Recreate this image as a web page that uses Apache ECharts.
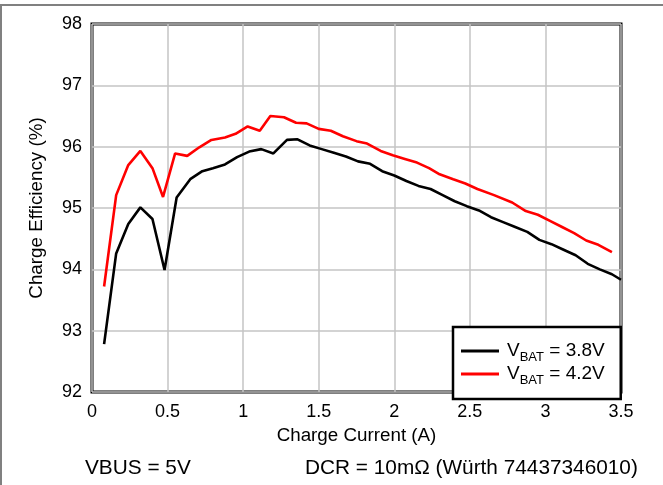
<!DOCTYPE html>
<html>
<head>
<meta charset="utf-8">
<script src="https://cdn.jsdelivr.net/npm/echarts@6/dist/echarts.min.js"></script>
<style>html,body{margin:0;padding:0;background:#fff;}#c{width:663px;height:485px;}</style>
</head>
<body>
<div id="c"></div>
<script>
var current38 = [0.08,0.16,0.24,0.32,0.40,0.48,0.56,0.65,0.73,0.80,0.88,0.96,1.04,1.12,1.20,1.29,1.36,1.44,1.52,1.60,1.68,1.76,1.84,1.92,2.00,2.08,2.16,2.24,2.32,2.40,2.48,2.56,2.64,2.72,2.80,2.88,2.96,3.04,3.12,3.20,3.28,3.36,3.44,3.50];
var eff38 = [92.78,94.26,94.74,95.01,94.82,93.99,95.17,95.47,95.60,95.65,95.71,95.83,95.92,95.96,95.89,96.11,96.12,96.02,95.96,95.90,95.84,95.76,95.72,95.60,95.53,95.44,95.36,95.31,95.21,95.11,95.03,94.96,94.85,94.77,94.69,94.61,94.48,94.41,94.32,94.23,94.09,94.00,93.92,93.83];
var current42 = [0.08,0.16,0.24,0.32,0.40,0.47,0.55,0.63,0.71,0.79,0.88,0.95,1.03,1.11,1.18,1.27,1.35,1.42,1.50,1.58,1.66,1.75,1.82,1.91,1.99,2.07,2.15,2.23,2.30,2.39,2.47,2.55,2.66,2.78,2.87,2.95,3.03,3.11,3.19,3.27,3.35,3.44];
var eff42 = [93.72,95.21,95.70,95.93,95.65,95.18,95.89,95.85,95.99,96.11,96.15,96.21,96.33,96.26,96.50,96.48,96.39,96.38,96.29,96.26,96.17,96.09,96.05,95.93,95.86,95.80,95.74,95.65,95.55,95.47,95.40,95.31,95.21,95.09,94.95,94.89,94.79,94.69,94.59,94.47,94.40,94.28];
var xTicks = [0,0.5,1,1.5,2,2.5,3,3.5];
var yTicks = [92,93,94,95,96,97,98];
var seriesNames = ['V_BAT = 3.8V','V_BAT = 4.2V'];
var footLeft = 'VBUS = 5V';
var footRight = 'DCR = 10m\u03A9 (W\u00FCrth 74437346010)';

function pairs(xs, ys){ return xs.map(function(x,i){ return [x, ys[i]]; }); }
var FONT = '"Liberation Sans", Arial, sans-serif';
var chart = echarts.init(document.getElementById('c'));
chart.setOption({
  animation:false,
  backgroundColor:'#fff',
  grid:{left:92,top:24,right:42,bottom:93,show:true,borderColor:'#000',borderWidth:3,backgroundColor:'transparent'},
  xAxis:{type:'value',min:xTicks[0],max:xTicks[xTicks.length-1],interval:0.5,
    name:'Charge Current (A)',nameLocation:'middle',nameGap:34,
    nameTextStyle:{fontFamily:FONT,fontSize:18.8,color:'#000'},
    axisLine:{show:false},axisTick:{show:false},
    axisLabel:{fontFamily:FONT,fontSize:18,color:'#000',margin:11,formatter:function(v){return String(v);}},
    splitLine:{show:true,lineStyle:{color:'#c4c4c4',width:1.5}}},
  yAxis:{type:'value',min:yTicks[0],max:yTicks[yTicks.length-1],interval:1,
    name:'Charge Efficiency (%)',nameLocation:'middle',nameGap:46,nameRotate:90,
    nameTextStyle:{fontFamily:FONT,fontSize:18.8,color:'#000'},
    axisLine:{show:false},axisTick:{show:false},
    axisLabel:{fontFamily:FONT,fontSize:18,color:'#000',margin:10},
    splitLine:{show:true,lineStyle:{color:'#c4c4c4',width:1.5}}},
  legend:{
    orient:'vertical',left:453,top:327,
    padding:[14,16,12,8],itemGap:0,itemWidth:38,itemHeight:3,
    borderColor:'#000',borderWidth:2.5,backgroundColor:'#fff',
    icon:'rect',
    data:seriesNames,
    formatter:function(n){ var p=n.split('_'); var rest=p[1].split(' '); return '{v|'+p[0]+'}{s|'+rest[0]+'}{v| '+rest.slice(1).join(' ')+'}'; },
    textStyle:{fontFamily:FONT,color:'#000',padding:[0,0,0,3],
      rich:{v:{fontFamily:FONT,fontSize:19,color:'#000',lineHeight:18,verticalAlign:'bottom'},
            s:{fontFamily:FONT,fontSize:13,color:'#000',lineHeight:18,verticalAlign:'bottom',padding:[0,0,-4,0]}}}
  },
  series:[
    {name:seriesNames[0],type:'line',data:pairs(current38,eff38),symbol:'none',lineStyle:{color:'#000',width:2.6},itemStyle:{color:'#000'},z:3},
    {name:seriesNames[1],type:'line',data:pairs(current42,eff42),symbol:'none',lineStyle:{color:'#ff0000',width:2.6},itemStyle:{color:'#ff0000'},z:4}
  ],
  graphic:[
    {type:'line',shape:{x1:0,y1:5,x2:663,y2:5},style:{stroke:'#808080',lineWidth:2}},
    {type:'line',shape:{x1:1,y1:5,x2:1,y2:485},style:{stroke:'#808080',lineWidth:2}},
    {type:'text',left:85,top:458,style:{text:footLeft,fontFamily:FONT,fontSize:20.8,fill:'#000'}},
    {type:'text',left:305,top:458,style:{text:footRight,fontFamily:FONT,fontSize:20.8,fill:'#000'}}
  ]
});
</script>
</body>
</html>
